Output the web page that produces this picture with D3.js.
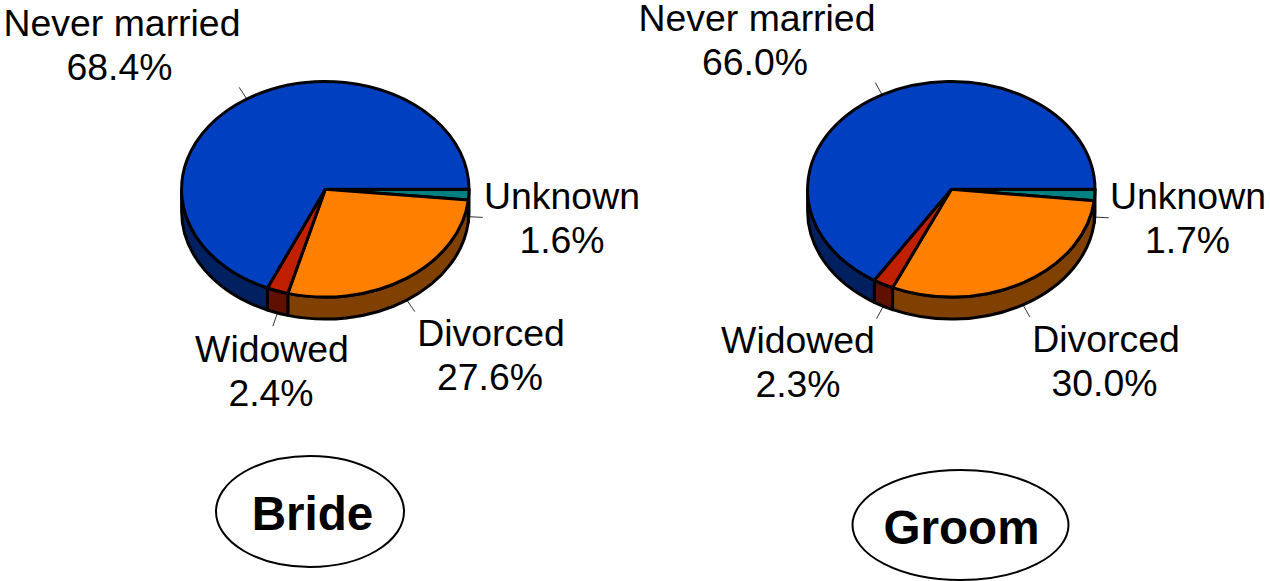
<!DOCTYPE html>
<html>
<head>
<meta charset="utf-8">
<script src="https://cdn.jsdelivr.net/npm/d3@7"></script>
<style>
  html, body { margin: 0; padding: 0; background: #fff; }
  svg { display: block; }
  text { font-family: "Liberation Sans", Arial, sans-serif; fill: #000; }
</style>
</head>
<body>
<svg id="chart" width="1270" height="581"></svg>
<script>
// clockwise from 3 o'clock, same order in both pies
var categories = ["Unknown", "Divorced", "Widowed", "Never married"];
var brideValues = [1.6, 27.6, 2.4, 68.4];
var groomValues = [1.7, 30.0, 2.3, 66.0];

var topColors = ["#008080", "#ff8000", "#c02000", "#0040c0"];
var sideColors = ["#004040", "#804000", "#601000", "#002060"];

var rx = 143.7, ry = 107.8, depth = 22, tick = 14;

var svg = d3.select("#chart");

var pie = d3.pie().sort(null).startAngle(Math.PI / 2).endAngle(Math.PI * 2.5);
var arc = d3.arc().innerRadius(0).outerRadius(rx);

function px(a) { return rx * Math.sin(a); }
function py(a) { return -ry * Math.cos(a); }

// front wall of a slice, only the part between 3 and 9 o'clock shows
function sidePath(d) {
  var a0 = Math.max(d.startAngle, Math.PI / 2),
      a1 = Math.min(d.endAngle, Math.PI * 1.5);
  if (a1 <= a0) return null;
  return "M" + px(a0) + "," + py(a0) +
    "A" + rx + "," + ry + " 0 0 1 " + px(a1) + "," + py(a1) +
    "L" + px(a1) + "," + (py(a1) + depth) +
    "A" + rx + "," + ry + " 0 0 0 " + px(a0) + "," + (py(a0) + depth) + "Z";
}

function drawPie(cfg) {
  var g = svg.append("g").attr("transform", "translate(" + cfg.cx + "," + cfg.cy + ")");
  var slices = pie(cfg.values);

  // leader lines go first, the pie covers their inner end
  g.selectAll("line.leader").data(slices).enter().append("line")
    .attr("class", "leader")
    .each(function(d) {
      var mid = (d.startAngle + d.endAngle) / 2,
          front = Math.cos(mid) < 0 ? depth : 0,
          x = px(mid), y = py(mid) + front;
      d3.select(this)
        .attr("x1", x).attr("y1", y)
        .attr("x2", x + tick * Math.sin(mid)).attr("y2", y - tick * Math.cos(mid));
    })
    .attr("stroke", "#333").attr("stroke-width", 1);

  g.selectAll("path.side").data(slices.filter(function(d) { return sidePath(d); })).enter().append("path")
    .attr("class", "side")
    .attr("d", sidePath)
    .attr("fill", function(d) { return sideColors[d.index]; })
    .attr("stroke", "#000").attr("stroke-width", 3).attr("stroke-linejoin", "round");

  g.selectAll("path.top").data(slices).enter().append("path")
    .attr("class", "top")
    .attr("d", arc)
    .attr("transform", "scale(1," + (ry / rx) + ")")
    .attr("vector-effect", "non-scaling-stroke")
    .attr("fill", function(d) { return topColors[d.index]; })
    .attr("stroke", "#000").attr("stroke-width", 3).attr("stroke-linejoin", "round");

  // label = [name x, baseline y, percent x]
  categories.forEach(function(name, i) {
    var p = cfg.labels[i];
    var t = svg.append("text").attr("text-anchor", "middle").attr("font-size", 37.4);
    t.append("tspan").attr("x", p[0]).attr("y", p[1]).text(name);
    t.append("tspan").attr("x", p[2]).attr("y", p[1] + 44).text(cfg.values[i].toFixed(1) + "%");
  });

  svg.append("ellipse")
    .attr("cx", cfg.badge[0]).attr("cy", cfg.badge[1])
    .attr("rx", cfg.badge[2]).attr("ry", cfg.badge[3])
    .attr("fill", "#fff").attr("stroke", "#000").attr("stroke-width", 2);
  svg.append("text")
    .attr("x", cfg.title[0]).attr("y", cfg.title[1])
    .attr("text-anchor", "middle").attr("font-size", 47.6).attr("font-weight", "bold")
    .text(cfg.name);
}

drawPie({
  name: "Bride", values: brideValues, cx: 325.3, cy: 189.3,
  labels: [[562, 209, 562], [491, 346, 490], [272, 362, 271], [122, 36, 119.5]],
  badge: [310, 511.5, 94, 55.5], title: [312.5, 530]
});
drawPie({
  name: "Groom", values: groomValues, cx: 951.3, cy: 189.3,
  labels: [[1188, 209, 1187.5], [1106, 352, 1104.5], [798, 353, 798], [757, 31, 755]],
  badge: [960.5, 525, 108, 55], title: [961.5, 544]
});
</script>
</body>
</html>
